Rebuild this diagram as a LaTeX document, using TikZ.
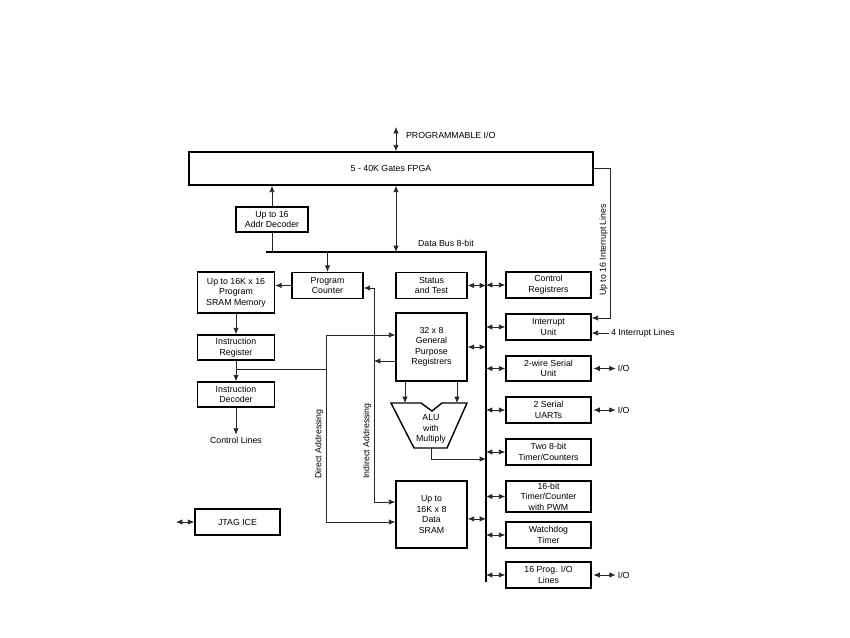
\documentclass[tikz,border=0pt]{standalone}
\usepackage{fontspec}
\setmainfont{Liberation Sans}
\usetikzlibrary{arrows.meta,calc}
\tikzset{
  blk/.style={draw, line width=0.8pt, align=center, inner sep=0pt, font=\fontsize{5}{6}\selectfont},
  sz/.style 2 args={minimum width=#1*0.02cm, minimum height=#2*0.02cm},
  lbl/.style={inner sep=1pt, align=center, font=\fontsize{5}{6}\selectfont},
  wire/.style={line width=0.4pt, draw=black!85},
}

\begin{document}
\begin{tikzpicture}[x=0.02cm, y=-0.02cm, >={Latex[length=3.6pt,width=3pt]}]
        \useasboundingbox (0,0) rectangle (850,638);
        \coordinate (busL) at (266,252); \coordinate (busR) at (486,252);
        \coordinate (busB) at (486,582);
        \draw[line width=0.6pt] (busL) -- (busR) -- (busB);
        \node[blk, sz={404}{33}] (fpga) at (391,168.5) {5 - 40K Gates FPGA};
        \node[blk, sz={72}{25}] (addr) at (272,219.5) {Up to 16\\Addr Decoder};
        \node[blk, sz={71}{26}] (pc) at (327.5,285.5) {Program\\Counter};
        \node[blk, sz={77}{41}] (psram) at (236,292.5) {Up to 16K x 16\\Program\\SRAM Memory};
        \node[blk, sz={77}{25}] (ireg) at (236,347.5) {Instruction\\Register};
        \node[blk, sz={77}{25}] (idec) at (236,394.5) {Instruction\\Decoder};
        \node[lbl] (ctl) at (236,440) {Control Lines};
        \node[blk, sz={71}{26}] (status) at (431.5,285.5) {Status\\and Test};
        \node[blk, sz={71}{68}] (gpr) at (431.5,347) {32 x 8\\General\\Purpose\\Registrers};
        \node[blk, sz={71}{67}] (dsram) at (431.5,514.5) {Up to\\16K x 8\\Data\\SRAM};
        \node[blk, sz={85}{26}] (jtag) at (237.5,522) {JTAG ICE};
        \foreach \n/\yy/\hh/\txt in {ctrl/285/26/{Control\\Registrers}, intr/327/26/{Interrupt\\Unit},
            twi/368.5/25/{2-wire Serial\\Unit}, uart/410/26/{2 Serial\\UARTs},
            tmr8/452/26/{Two 8-bit\\Timer/Counters}, tmr16/496.5/31/{16-bit\\Timer/Counter\\with PWM},
            wdt/535/26/{Watchdog\\Timer}, pio/575/26/{16 Prog. I/O\\Lines}}
            \node[blk, sz={85}{\hh}] (\n) at (548.5,\yy) {\txt};
        \foreach \n in {ctrl,intr,twi,uart,tmr8,tmr16,wdt,pio}
            \draw[wire,<->] (\n.west -| busR) -- (\n.west);
        \foreach \n in {status,gpr}
            \draw[wire,<->] (\n.east) -- (\n.east -| busR);
        \draw[wire,<->] ([yshift=-2.5pt]dsram.east) -- ([yshift=-2.5pt]dsram.east -| busR);
        \foreach \n in {twi,uart,pio} {
            \node[lbl, anchor=west] (io\n) at ($(\n.east)+(24,0)$) {I/O};
            \draw[wire,<->] ([xshift=1pt]\n.east) -- (io\n.west);
        }
        \coordinate (progio) at (396,127);
        \draw[wire,<->] (progio) -- (progio |- fpga.north);
        \node[lbl, anchor=west] (progiolbl) at (404,135) {PROGRAMMABLE I/O};
        \draw[wire,<->] (progio |- fpga.south) -- (progio |- busL);
        \node[lbl, anchor=west] (buslbl) at (416,243) {Data Bus 8-bit};
        \draw[wire,->] (addr.north) -- (addr.north |- fpga.south);
        \draw[wire] (addr.south) -- (addr.south |- busL);
        \draw[wire,->] (pc.north |- busL) -- (pc.north);
        \draw[wire,->] (pc.west) -- (pc.west -| psram.east);
        \draw[wire,->] (psram.south) -- (ireg.north);
        \draw[wire,->] (ireg.south) -- (idec.north);
        \draw[wire,->] (idec.south) -- (ctl.north);
        \coordinate (irj) at (236,369);
        \coordinate (daTop) at (326,335); \coordinate (daBot) at (326,522);
        \draw[wire] (irj) -- (irj -| daTop);
        \draw[wire,<->] (daTop -| gpr.west) -- (daTop) -- (daBot) -- (daBot -| dsram.west);
        \coordinate (iaTop) at (374,288); \coordinate (iaBot) at (374,502);
        \coordinate (iaMid) at (374,361);
        \draw[wire,<->] (iaTop -| pc.east) -- (iaTop) -- (iaBot) -- (iaBot -| dsram.west);
        \draw[wire,->] (iaMid -| gpr.west) -- (iaMid);
        \node[lbl, rotate=90] (dalbl) at (319,444) {Direct Addressing};
        \node[lbl, rotate=90] (ialbl) at (367,441) {Indirect Addressing};
        \draw[line width=0.8pt] (391,403) -- (421,403) -- (432,411) -- (442,403) -- (467,403)
            -- (447,448) -- (414,448) -- cycle;
        \node[lbl] (alu) at (431,429) {ALU\\with\\Multiply};
        \coordinate (aluInL) at (405,403); \coordinate (aluInR) at (457,403);
        \draw[wire,->] (aluInL |- gpr.south) -- (aluInL);
        \draw[wire,->] (aluInR |- gpr.south) -- (aluInR);
        \coordinate (aluOut) at (431,448); \coordinate (aluBus) at (486,459);
        \draw[wire,->] (aluOut) |- (aluBus);
        \coordinate (irqC) at (610,318);
        \draw[wire,->] (fpga.east) -| (irqC) -- (irqC -| intr.east);
        \node[lbl, rotate=90] (irqlbl) at (603.5,250) {Up to 16 Interrupt Lines};
        \node[lbl, anchor=west] (irq4) at (609,333) {4 Interrupt Lines};
        \draw[wire,->] (irq4.west) -- (irq4.west -| intr.east);
        \coordinate (jtagL) at (176,522);
        \draw[wire,<->] (jtagL) -- (jtag.west);
    \end{tikzpicture}
\end{document}
